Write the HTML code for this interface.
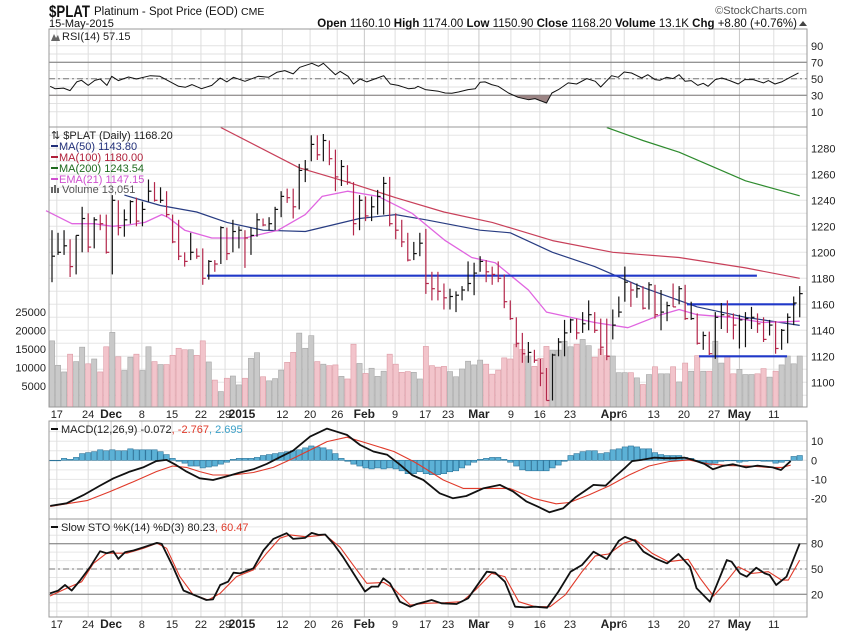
<!DOCTYPE html>
<html><head><meta charset="utf-8"><style>
body{margin:0;background:#fff;}
svg{display:block;font-family:"Liberation Sans",Arial,sans-serif;}
</style></head><body>
<svg id="c" width="850" height="633" viewBox="0 0 850 633" xmlns="http://www.w3.org/2000/svg">
<g id="grid"></g>
<g id="vol"></g>
<g id="lines"></g>
<g id="bars"></g>
<g id="frames"></g>
<g id="labels" font-size="11" fill="#222"></g>
<g id="hdr">
<text x="49" y="17" font-size="17" font-weight="bold" fill="#111" textLength="41" lengthAdjust="spacingAndGlyphs">$PLAT</text>
<text x="94" y="15" font-size="11.5" fill="#111">Platinum  - Spot Price (EOD) <tspan font-size="10.5">CME</tspan></text>
<text x="49" y="27" font-size="11" fill="#111">15-May-2015</text>
<text x="807" y="14" font-size="11" fill="#555" text-anchor="end">©StockCharts.com</text>
<text x="797" y="27" font-size="11.5" fill="#111" text-anchor="end"><tspan font-weight="bold">Open</tspan> 1160.10 <tspan font-weight="bold">High</tspan> 1174.00 <tspan font-weight="bold">Low</tspan> 1150.90 <tspan font-weight="bold">Close</tspan> 1168.20 <tspan font-weight="bold">Volume</tspan> 13.1K <tspan font-weight="bold">Chg</tspan> +8.80 (+0.76%)</text>
<polygon points="799,26 807,26 803,21" fill="#444"/>
</g>
</svg>
<script>
// ---------- DATA ----------
const highs=[1217,1215,1217,1210,1213,1235,1230,1227,1229,1229,1244,1240,1233,1240,1242,1239,1256,1254,1250,1247,1229,1225,1200,1215,1203,1203,1194,1194,1220,1219,1225,1220,1217,1219,1230,1226,1227,1235,1247,1249,1249,1268,1271,1290,1290,1291,1286,1279,1271,1267,1254,1244,1243,1243,1248,1258,1258,1230,1225,1215,1208,1215,1218,1185,1185,1176,1172,1170,1174,1193,1192,1197,1194,1189,1193,1183,1163,1150,1138,1131,1125,1118,1111,1122,1134,1148,1149,1149,1154,1163,1154,1149,1149,1156,1166,1189,1177,1176,1174,1177,1175,1171,1162,1176,1174,1175,1162,1153,1139,1139,1154,1161,1163,1153,1152,1154,1158,1153,1150,1148,1147,1141,1153,1166,1174];
const lows=[1177,1198,1198,1181,1183,1200,1200,1203,1217,1199,1183,1213,1212,1222,1220,1220,1239,1239,1238,1227,1207,1194,1189,1194,1195,1175,1179,1185,1191,1194,1200,1203,1188,1198,1212,1220,1217,1217,1227,1238,1226,1233,1254,1270,1271,1270,1267,1247,1251,1252,1213,1217,1224,1224,1229,1229,1220,1210,1204,1193,1194,1197,1168,1163,1163,1156,1156,1154,1163,1170,1167,1185,1177,1175,1177,1157,1148,1127,1115,1115,1115,1097,1086,1086,1120,1120,1138,1133,1138,1140,1138,1121,1117,1133,1150,1162,1158,1165,1156,1156,1149,1140,1147,1158,1160,1148,1148,1129,1125,1121,1118,1141,1138,1133,1126,1127,1141,1138,1131,1136,1122,1125,1130,1144,1150];
const closes=[1197,1200,1205,1189,1213,1226,1204,1225,1222,1200,1240,1219,1225,1239,1224,1233,1247,1240,1240,1229,1208,1197,1193,1200,1197,1180,1193,1191,1219,1199,1216,1217,1211,1213,1225,1221,1222,1233,1243,1242,1235,1263,1264,1283,1275,1286,1272,1258,1266,1254,1222,1240,1228,1235,1243,1253,1222,1217,1208,1194,1199,1207,1176,1172,1170,1165,1166,1167,1171,1176,1184,1193,1185,1183,1180,1162,1149,1130,1122,1123,1117,1107,1086,1121,1131,1138,1148,1138,1145,1152,1140,1127,1120,1144,1154,1177,1171,1172,1157,1175,1152,1154,1159,1158,1172,1149,1149,1130,1136,1122,1150,1152,1151,1144,1148,1149,1150,1145,1133,1144,1126,1140,1150,1161,1168.2];
const volumes=[17.2,10.6,8.8,13.6,11.6,15.5,11,12.3,8.8,15.6,19.5,12.9,9.2,12.8,13.6,9.2,15.6,11.6,10.8,10.8,13.3,15.2,14.8,14.8,13.3,17.2,11.5,6.6,3.5,7.1,7.7,5.3,7.1,12.5,14,7.5,6.4,7,9.3,11.4,14.1,19.3,15.2,18.6,11.6,10.9,10.5,10.7,7.6,6.9,16.3,11.1,8.4,9.8,7.6,9,13.6,10.9,8.7,8.9,8.7,6.9,15.7,10.5,10.1,10.3,8.9,7.5,9.6,11.7,10.7,12,10.9,8.2,9.3,12.6,12.3,16.3,14.9,13.1,10.3,12.5,15.7,14.7,14.7,17.1,15.6,16.3,17.6,15.9,12.8,15,13.2,13.1,8.6,8.6,8.6,7.2,5.4,8.1,10.2,8.3,8.3,10.2,6.1,11.2,9,13.2,9,9,17.1,11.2,13.1,8.3,9.5,8.1,8.1,8.3,9.7,7.4,9,10.7,13.1,11,13.1];
// moving averages: bar index + value
const ma50Idx=[12,18,24,29,35,42,51,57,62,71,76,83,90,98,107,115,124];
const ma50Val=[1244,1236,1231,1223,1217,1216,1226,1229,1225,1217,1215,1200,1189,1173,1158,1150,1143.8];
const ma100Idx=[28,41,49,57,65,73,83,93,104,115,124];
const ma100Val=[1296,1265,1254,1242,1231,1223,1209,1200,1196,1188,1180];
const ma200Idx=[92,98,104,109,115,124];
const ma200Val=[1296,1286,1277,1267,1255,1243.5];
const emaIdx=[-1,3.3,7,10,12.6,15.4,18.2,19.2,22,26.5,32,37.5,42,44.8,49,54.1,59.7,65.2,69.6,73.5,79,82,90,95.5,101,104,107,112.5,118,124];
const emaVal=[1232,1222,1222,1220,1221,1223,1229,1227,1217,1211,1211,1217,1229,1243,1247,1243,1230,1209,1196,1192,1171,1154,1146,1142,1152,1156,1152,1150,1146,1147];
// RSI samples (bar index, value)
const rsiIdx=[-0.3,0.5,1.9,3,4.1,4.9,6,7.1,8,9.1,9.9,11,12.7,14,16.3,17.9,21,22.1,23.2,24.8,26.5,27.9,29,30.1,32,34.2,35.9,37.3,38.6,40,41.1,43.1,44.2,45,47,47.8,49.1,50,51.1,52.2,55,56.1,57.4,59.1,60.2,60.7,61.9,64.1,65.2,66.3,67.4,69,70.2,71,71.8,72.9,74,75.7,77.3,79,80.1,82,82.9,84,85.6,87,88.7,90.1,91,92.8,93.9,94.9,96.1,97.8,98.8,100,100.8,101.9,103,104,105,106,107.1,108,108.8,110,111.1,112.4,113.8,114.9,116.3,118,118.8,119.9,121,122.4,123.8];
const rsiVal=[40.9,38,38.7,35.7,46.2,48.2,42,48,49.8,42,53,47.8,52.2,49.8,53.8,53,40.9,39.7,43,38,42,51,46.2,51.8,47,53,51.8,57.9,59.9,55.9,63.9,68.8,65.2,68.8,55,59,53,43.7,49.8,46.2,53.8,43.7,42,38,38.7,40.9,36.9,34.8,32.8,32.4,34,36.9,38,45.8,46.2,43,40.9,32.8,27.6,24.7,26,20.7,32.8,36.9,45,43.7,50.2,47,40.1,53.8,51.8,58.3,57,51,55,49,48.2,51.8,50.2,55,47,47.8,42,44.5,40.9,49,51,47.8,43.7,49,49,45,47.8,43.7,46.2,51.8,57.1];
// MACD (bar index, value)
const macdIdx=[-0.3,2.4,5.2,7.9,10.2,12.9,15.1,17.3,19,20.6,22.3,24.5,26.7,28.9,31.2,33.4,35.6,37.8,40,42.8,45.6,46.7,48.9,51.1,53.3,55.6,57.8,59.7,61.6,64.3,66.5,68.7,71.5,74.3,76.5,78.7,80.6,82.5,84.8,86.8,88.4,89.8,91.8,93.4,95.1,96.2,97.8,99.9,101.6,103.2,104.9,106.3,108.2,109.6,111.2,112.9,115.1,117,119.5,120.9,122.5];
const macdVal=[-23.9,-22.5,-18.2,-13.4,-9.4,-5.9,-3.7,-0.4,0.2,-2.5,-5.9,-9.4,-10.3,-8.5,-6.4,-4.7,-1.9,1.6,5.1,12.4,16.6,15.5,13.3,8,4.6,2.9,-2.5,-7.7,-10.3,-17.3,-19.9,-18.7,-14.7,-12.9,-16.4,-21.6,-24.3,-27.2,-25.1,-19.4,-15.9,-12.9,-13.3,-8.5,-3.7,-0.4,0.2,1.4,1.1,1.1,1.4,0.2,-1.9,-4.7,-3,-2.1,-3.7,-2.8,-3.7,-5.1,-0.4];
const sigIdx=[-0.3,2.4,5.8,9.6,13.5,17.3,20,22.3,24.5,26.7,30,33.4,36.7,40,43.4,45.6,48.9,52.2,56.7,60,61.6,64.9,68.2,72.6,75.9,79.8,83.6,85.8,89.1,92.4,95.7,99,102.3,105.6,108.9,112.2,115.6,118.9,121.1,122.5];
const sigVal=[-24.2,-22.8,-21.1,-16.4,-11.2,-5.9,-3,-3.7,-5.9,-7.7,-7.7,-6.4,-3.7,1,6.3,9.8,12.1,9,4.6,-0.7,-3.7,-10.3,-14.7,-14.7,-14.7,-19.9,-22.8,-22.1,-18,-13.4,-7.7,-3,-0.7,0.2,-1.9,-2.8,-3,-3.7,-3.7,-2.5];
const histVal=[0,0,1,0.5,1.5,3.5,4,4.5,5.5,5,5.5,5,5,6,5.5,5.5,5.5,5.5,4.5,3,1,-0.5,-1.5,-3,-3,-4,-3.5,-3,-2,-1,0.5,1,1,1,1.5,2.5,3,3.5,4,4.5,5,5.5,6.5,7.5,7,6.5,5.5,3.5,1,-0.5,-2,-3,-4,-4.5,-4,-4.5,-4,-4.5,-5.5,-7,-7,-6,-7,-7.5,-7.5,-7,-6,-5.5,-4,-2.5,-1,0.5,1,1.5,1.5,0.5,-1,-3,-5,-5.5,-5.5,-5.5,-5.5,-4,-2.5,-0.5,2.5,3.5,4.5,5,5,3.5,4,5.5,6,7,7.5,7,6,6,4,3,2.5,2.5,2.5,1.5,1,-0.5,-1.5,-2.5,-1.5,-0.5,0,0,-1,-0.5,0,0,-0.5,-0.5,-1.5,-1,0,2,2.5];
// Slow stochastic (bar index, value)
const kIdx=[-0.33,1.05,2.15,3.26,4.64,6.3,7.96,9.07,10.17,11,12.1,13.5,15.15,17.4,18.2,20.1,21.8,23.4,25.6,26.7,27.9,29.2,30.1,31.2,33.4,35.05,36.7,38.9,40,41.96,43.07,44.2,45.3,46.7,48.3,50,51.9,53,54.1,54.95,56.05,57.7,59.4,60.5,61.9,62.95,64.6,67.1,69,72.1,73.5,75.1,76.8,78.5,80.1,82.1,84,86,87.9,89.8,92,94,95,96.7,98.1,100,102,103.9,105.8,106.9,109.1,111.9,112.7,114.1,115.2,116.8,118.2,119,120.1,121.8,124];
const kVal=[21.2,24.4,31,24.4,36.4,52.2,71,68.7,71,62,69.9,71.9,75.8,81,79.8,52.2,24.5,19.7,13.2,14,31,35,45.6,44.8,50.8,71.9,85.7,92.5,85.7,86.9,92.8,90.5,90.9,79.8,64,44.8,23.3,29.1,29.1,39,33,11.2,5.3,8.5,11.2,13.2,9.3,8.5,15.2,46.8,45.6,35,5.3,4.5,5.3,4.1,23.3,46.8,54.8,70.5,61.8,83.4,88.1,83.4,70.5,62.6,56.7,67.8,52.7,27.1,11.2,60.6,58.7,44.8,40.9,51.6,44.8,42.9,31,40.9,80.2];
const dIdx=[-0.33,2.44,4.93,6.86,9.07,12.4,15.15,17.4,19,21.2,23.4,25.9,27.9,30.6,33.4,35.6,37.8,39.5,42.2,45.3,47.8,50,52.2,55,56.6,59.4,61.9,65.2,68,70.2,72.9,75.1,77.4,80.1,82.6,85.1,87.9,90.1,92.3,94.8,96.7,99.5,102.2,105.5,107.5,109.7,111.6,113.8,116,118.8,121,122.1,124];
const dVal=[18,27.1,35,56.7,68.7,68.7,74.6,80.6,74.6,41,19.7,13.2,21.2,41,49,68.7,86.5,90.5,88.2,90.5,75.8,54.1,33,34,27.1,7.3,9.3,10,11.2,25,44.8,41,11.2,5.3,5.3,19.2,46.8,65.5,67.8,80.5,85,68.7,58.7,61.5,39,18,33,52.7,44.8,46.8,36.9,36.9,60.5];
const dateLabels=["17","24","Dec","8","15","22","29","2015","12","20","26","Feb","9","17","23","Mar","9","16","23","Apr","6","13","20","27","May","11"];
const dateBold=[0,0,1,0,0,0,0,1,0,0,0,1,0,0,0,1,0,0,0,1,0,0,0,0,1,0];
const dateIdx=[0.8,6,9.8,14.9,19.9,24.7,28.7,31.5,38.2,42.8,47.3,51.8,56.9,61.9,65.7,70.8,76.1,80.9,85.9,92.7,94.9,99.8,104.8,109.8,114,119.7];
const priceTicks=[1100,1120,1140,1160,1180,1200,1220,1240,1260,1280];
const volTicks=[5000,10000,15000,20000,25000];
const rsiTicks=[10,30,50,70,90];
const macdTicks=[-20,-10,0,10];
const stoTicks=[20,50,80];

// ---------- AXES ----------
const L=49,R=807;
const xi=i=>52+i*6.03;
const yP=p=>148.3+(1280-p)*1.3;
const yV=v=>404.5-v*3.7;
const yR=v=>62.3+(70-v)*0.825;
const yM=v=>460.3-v*1.91;
const yS=v=>594.3-(v-20)*0.843;
const P={rsi:[29,127],price:[127,407],macd:[421,519],sto:[519,617]};
const NS='http://www.w3.org/2000/svg';
function mk(tag,attrs,parent){const e=document.createElementNS(NS,tag);for(const k in attrs)e.setAttribute(k,attrs[k]);parent.appendChild(e);return e;}
const G=id=>document.getElementById(id);
const grid=G('grid'),vol=G('vol'),lines=G('lines'),bars=G('bars'),frames=G('frames'),labels=G('labels');

function hline(y,stroke,dash,par){const l=mk('line',{x1:L,x2:R,y1:y,y2:y,stroke:stroke,'stroke-width':1},par);if(dash)l.setAttribute('stroke-dasharray',dash);return l;}
for(let v=10;v<=90;v+=10){const e=hline(yR(v),'#e2e2e2',null,grid);}
for(let p=1090;p<=1290;p+=10){const e=hline(yP(p),'#e6e6e6',null,grid);}
for(let v=-25;v<=15;v+=5){const e=hline(yM(v),'#e6e6e6',null,grid);}
for(let v=0;v<=100;v+=10){const e=hline(yS(v),'#e6e6e6',null,grid);}
dateIdx.forEach((d,k)=>{
  for(const pn of ['rsi','price','macd','sto']){
    const l=mk('line',{x1:xi(d),x2:xi(d),y1:P[pn][0],y2:P[pn][1],stroke:dateBold[k]?'#c8c8c8':'#dedede','stroke-width':1},grid);
    
    
  }
});
[[yR(70),null],[yR(30),null],[yR(50),'6,3,2,3']].forEach(([y,d])=>{const e=hline(y,'#777',d,grid);});
[[yS(80),null],[yS(20),null],[yS(50),'6,3,2,3']].forEach(([y,d])=>{const e=hline(y,'#777',d,grid);});

volumes.forEach((v,i)=>{
  const up=i===0?true:closes[i]>=closes[i-1];
  const y=yV(v);
  const r=mk('rect',{x:xi(i)-2.6,y:y,width:5.2,height:407-y,fill:up?'#c9c9c9':'#f2c4cb',stroke:up?'#a6a6a6':'#dc9aa4','stroke-width':0.6},vol);
  
  
});

function poly(idx,val,yf,color,w,name){
  const pts=idx.map((d,k)=>xi(d).toFixed(1)+','+yf(val[k]).toFixed(1)).join(' ');
  const e=mk('polyline',{points:pts,fill:'none',stroke:color,'stroke-width':w,'stroke-linejoin':'round'},lines);
  
  
  return e;
}
const clip=mk('clipPath',{id:'below30'},lines);
mk('rect',{x:L,y:yR(30),width:R-L,height:P.rsi[1]-yR(30)},clip);
const sh=mk('polygon',{points:rsiIdx.map((d,k)=>xi(d)+','+yR(rsiVal[k])).join(' ')+' '+xi(rsiIdx[rsiIdx.length-1])+','+yR(30)+' '+xi(rsiIdx[0])+','+yR(30),fill:'#9c8585','clip-path':'url(#below30)'},lines);


poly(rsiIdx,rsiVal,yR,'#111',1,'rsi-line');

poly(ma100Idx,ma100Val,yP,'#c8405a',1.2,'ma100-line');
poly(ma200Idx,ma200Val,yP,'#2e8b2e',1.2,'ma200-line');
poly(ma50Idx,ma50Val,yP,'#283c82',1.2,'ma50-line');
poly(emaIdx,emaVal,yP,'#e065e0',1.3,'ema21-line');
[[25.7,116.9,1182,'resistance-line-1182'],[105.3,123.3,1160,'resistance-line-1160'],[107.3,121.9,1120,'support-line-1120']].forEach(([a,b,p,n])=>{
  const l=mk('line',{x1:xi(a),x2:xi(b),y1:yP(p),y2:yP(p),stroke:'#2038c8','stroke-width':2.2},lines);
  
  
});

highs.forEach((h,i)=>{
  const up=i===0?true:closes[i]>=closes[i-1];
  const c=up?'#111':'#b3264a';
  const g=mk('g',{stroke:c,'stroke-width':1.2},bars);
  
  
  mk('line',{x1:xi(i),x2:xi(i),y1:yP(h),y2:yP(lows[i])},g);
  mk('line',{x1:xi(i),x2:xi(i)+3,y1:yP(closes[i]),y2:yP(closes[i])},g);
});

histVal.forEach((v,i)=>{
  const y0=yM(0),y1=yM(v);
  const r=mk('rect',{x:xi(i)-2.7,y:Math.min(y0,y1),width:5.4,height:Math.max(0.5,Math.abs(y1-y0)),fill:'#5cb1d6',stroke:'#2b7399','stroke-width':0.6},lines);
  
  
});
poly(sigIdx,sigVal,yM,'#e03a2a',1.1,'macd-signal-line');
poly(macdIdx,macdVal,yM,'#111',1.8,'macd-line');
poly(dIdx,dVal,yS,'#e03a2a',1.1,'sto-d-line');
poly(kIdx,kVal,yS,'#111',1.8,'sto-k-line');

for(const pn in P){const r=mk('rect',{x:L,y:P[pn][0],width:R-L,height:P[pn][1]-P[pn][0],fill:'none',stroke:'#999','stroke-width':1},frames);}

function txt(x,y,s,attrs,name){const t=mk('text',Object.assign({x:x,y:y},attrs||{}),labels);t.textContent=s;return t;}
rsiTicks.forEach(v=>txt(811,yR(v)+4,String(v),{},'rsi-tick-label'));
priceTicks.forEach(v=>txt(811,yP(v)+4,String(v),{},'price-tick-label'));
volTicks.forEach(v=>txt(46,yV(v/1000)+4,String(v),{'text-anchor':'end'},'volume-tick-label'));
macdTicks.forEach(v=>txt(811,yM(v)+4,String(v),{},'macd-tick-label'));
stoTicks.forEach(v=>txt(811,yS(v)+4,String(v),{},'sto-tick-label'));
dateLabels.forEach((s,k)=>{
  const a={'text-anchor':'middle'};if(dateBold[k]){a['font-weight']='bold';a['font-size']='12';}
  txt(xi(dateIdx[k]),418,s,a,'x-axis-date-label');
  txt(xi(dateIdx[k]),628,s,a,'x-axis-date-label-bottom');
});
txt(62,40,'RSI(14) 57.15',{},'rsi-legend');
mk('path',{d:'M51,41 L54,34 L56,38 L58,35 L60,41 Z',fill:'#666'},labels);
txt(51,139,'⇅ $PLAT (Daily) 1168.20',{},'price-legend');
[['MA(50) 1143.80','#22307a',150],['MA(100) 1180.00','#b0203a',161],['MA(200) 1243.54','#1f6b1f',172],['EMA(21) 1147.15','#d050d0',183]].forEach(([s,c,y])=>{
  const l=mk('line',{x1:51,x2:58,y1:y-4,y2:y-4,stroke:c,'stroke-width':2},labels);
  
  
  txt(59,y,s,{fill:c},'legend-entry');
});
txt(62,193,'Volume 13,051',{fill:'#555'},'volume-legend');
mk('path',{d:'M51,193 h2 v-6 h-2z M54,193 h2 v-8 h-2z M57,193 h2 v-5 h-2z',fill:'#666'},labels);
mk('line',{x1:51,x2:58,y1:429,y2:429,stroke:'#111','stroke-width':2},labels);
const mt=txt(61,433,'MACD(12,26,9) -0.072',{},'macd-legend');
const t2=mk('tspan',{fill:'#e03a2a'},mt);t2.textContent=', -2.767';
const t3=mk('tspan',{fill:'#3aa0c8'},mt);t3.textContent=', 2.695';
mk('line',{x1:51,x2:58,y1:527,y2:527,stroke:'#111','stroke-width':2},labels);
const st=txt(61,531,'Slow STO %K(14) %D(3) 80.23',{},'sto-legend');
const s2=mk('tspan',{fill:'#e03a2a'},st);s2.textContent=', 60.47';
</script>
</body></html>
